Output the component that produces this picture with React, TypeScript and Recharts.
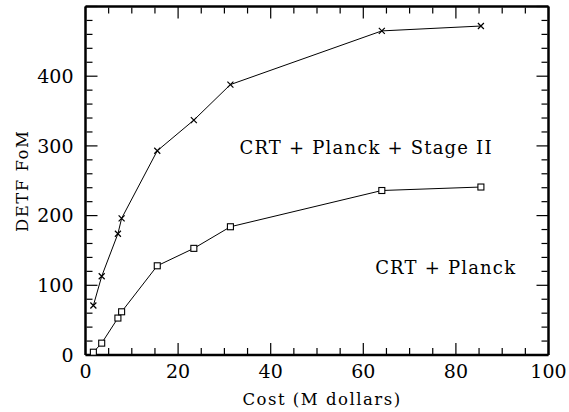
import React from 'react';
import {
  LineChart,
  Line,
  XAxis,
  YAxis,
  ReferenceDot,
  Label,
} from 'recharts';

// cost in M dollars, shared by both curves
const cost = [1.7, 3.5, 7.0, 7.8, 15.5, 23.4, 31.3, 64.0, 85.4];
const fomStageII = [71, 113, 174, 196, 293, 337, 388, 465, 472];
const fomPlanck = [4, 17, 53, 62, 128, 153, 184, 236, 241];

const xMajor = [0, 20, 40, 60, 80, 100];
const xMinor = [5, 10, 15, 25, 30, 35, 45, 50, 55, 65, 70, 75, 85, 90, 95];
const yMajor = [0, 100, 200, 300, 400, 500];
const yMinor = [20, 40, 60, 80, 120, 140, 160, 180, 220, 240, 260, 280, 320, 340, 360, 380, 420, 440, 460, 480];

const data = cost.map((c, i) => ({ cost: c, stage: fomStageII[i], planck: fomPlanck[i] }));

const FONT = '"DejaVu Serif", serif';
const blank = () => '';
const frame = { stroke: '#000', strokeWidth: 2.5 };
const tl = { stroke: '#000', strokeWidth: 1.2 };

// pairs of tick-only axes; each pair gets a hidden series so its scale exists
const tickPairs = [
  ['bMaj', 'lMaj'],
  ['bMin', 'lMin'],
  ['tMaj', 'rMaj'],
  ['tMin', 'rMin'],
];

const Cross = ({ cx, cy }: any) => {
  if (cx == null || cy == null) return null;
  const s = 3;
  return (
    <path
      d={`M${cx - s},${cy - s}L${cx + s},${cy + s}M${cx - s},${cy + s}L${cx + s},${cy - s}`}
      stroke="#000"
      strokeWidth={1.2}
      fill="none"
    />
  );
};

const Square = ({ cx, cy }: any) => {
  if (cx == null || cy == null) return null;
  const s = 3;
  return <rect x={cx - s} y={cy - s} width={2 * s} height={2 * s} stroke="#000" strokeWidth={1.1} fill="#fff" />;
};

export default function App() {
  return (
    <div style={{ position: 'absolute', left: 0, top: 0, fontFamily: FONT, background: '#fff' }}>
      <LineChart width={569} height={412} data={data} margin={{ top: 6.5, right: 20.5, left: 0, bottom: 0 }}>
        {/* inward tick marks on all four sides */}
        <XAxis xAxisId="bMaj" dataKey="cost" orientation="bottom" mirror height={1} type="number" domain={[0, 100]} ticks={xMajor} tickSize={12} tickFormatter={blank} axisLine={frame} tickLine={tl} />
        <XAxis xAxisId="bMin" dataKey="cost" orientation="bottom" mirror height={1} type="number" domain={[0, 100]} ticks={xMinor} tickSize={6} tickFormatter={blank} axisLine={false} tickLine={tl} />
        <XAxis xAxisId="tMaj" dataKey="cost" orientation="top" mirror height={1} type="number" domain={[0, 100]} ticks={xMajor} tickSize={12} tickFormatter={blank} axisLine={frame} tickLine={tl} />
        <XAxis xAxisId="tMin" dataKey="cost" orientation="top" mirror height={1} type="number" domain={[0, 100]} ticks={xMinor} tickSize={6} tickFormatter={blank} axisLine={false} tickLine={tl} />
        <YAxis yAxisId="lMaj" orientation="left" mirror width={1} type="number" domain={[0, 500]} ticks={yMajor} tickSize={12} tickFormatter={blank} axisLine={frame} tickLine={tl} />
        <YAxis yAxisId="lMin" orientation="left" mirror width={1} type="number" domain={[0, 500]} ticks={yMinor} tickSize={6} tickFormatter={blank} axisLine={false} tickLine={tl} />
        <YAxis yAxisId="rMaj" orientation="right" mirror width={1} type="number" domain={[0, 500]} ticks={yMajor} tickSize={12} tickFormatter={blank} axisLine={frame} tickLine={tl} />
        <YAxis yAxisId="rMin" orientation="right" mirror width={1} type="number" domain={[0, 500]} ticks={yMinor} tickSize={6} tickFormatter={blank} axisLine={false} tickLine={tl} />
        {tickPairs.map(([xa, ya]) => (
          <Line key={xa} xAxisId={xa} yAxisId={ya} dataKey="stage" stroke="none" dot={false} activeDot={false} legendType="none" isAnimationActive={false} />
        ))}

        <XAxis
          xAxisId="x"
          dataKey="cost"
          type="number"
          domain={[0, 100]}
          ticks={xMajor}
          height={57}
          tickSize={0}
          tickMargin={10}
          axisLine={false}
          tickLine={false}
          tick={{ fill: '#000', fontSize: 19 }}
        >
          <Label value="Cost (M dollars)" position="insideBottom" offset={7} dx={5} fill="#000" fontSize={16.5} letterSpacing={1.5} />
        </XAxis>
        <YAxis
          yAxisId="y"
          type="number"
          domain={[0, 500]}
          ticks={[0, 100, 200, 300, 400]}
          width={85.5}
          tickSize={0}
          tickMargin={12}
          axisLine={false}
          tickLine={false}
          tick={{ fill: '#000', fontSize: 19 }}
        >
          <Label value="DETF FoM" angle={-90} position="insideLeft" offset={22} fill="#000" fontSize={16.5} letterSpacing={1.5} style={{ textAnchor: 'middle' }} />
        </YAxis>

        <Line xAxisId="x" yAxisId="y" dataKey="stage" stroke="#000" strokeWidth={1} dot={<Cross />} activeDot={false} isAnimationActive={false} />
        <Line xAxisId="x" yAxisId="y" dataKey="planck" stroke="#000" strokeWidth={1} dot={<Square />} activeDot={false} isAnimationActive={false} />

        <ReferenceDot xAxisId="x" yAxisId="y" x={60.6} y={298} r={0} fill="none" stroke="none">
          <Label value="CRT  +  Planck  +  Stage II" position="center" fill="#000" fontSize={18} letterSpacing={1.2} />
        </ReferenceDot>
        <ReferenceDot xAxisId="x" yAxisId="y" x={77.8} y={126} r={0} fill="none" stroke="none">
          <Label value="CRT  +  Planck" position="center" fill="#000" fontSize={18} letterSpacing={1.2} />
        </ReferenceDot>
      </LineChart>
    </div>
  );
}
